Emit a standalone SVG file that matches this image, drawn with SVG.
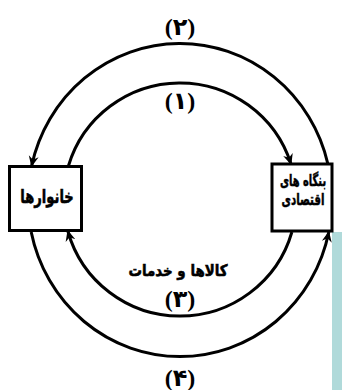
<svg xmlns="http://www.w3.org/2000/svg" width="342" height="390" viewBox="0 0 342 390">
<style>
.box{fill:#fff;stroke:#000;stroke-width:3}
.arc{fill:none;stroke:#000;stroke-width:3;marker-end:url(#ah)}
.lbl{font-family:"DejaVu Sans",sans-serif;font-weight:bold;font-size:19px;text-anchor:middle;fill:#000;stroke:#000;stroke-width:0.6}
.num{font-family:"Liberation Serif","DejaVu Sans",serif;font-weight:bold;font-size:24px;text-anchor:middle;fill:#000}
</style>
<defs>
<marker id="ah" markerUnits="userSpaceOnUse" viewBox="0 0 12 12" refX="10" refY="6" markerWidth="12" markerHeight="12" orient="auto">
<path d="M0,1 L11,6 L0,11 L3.5,6 z" fill="#000"/>
</marker>
</defs>
<rect x="332" y="232" width="10" height="158" fill="#b0dada"/>
<g id="connectors">
<path id="c2" class="arc" d="M327.9,164 A152,156.5 0 0 0 31.6,166"/>
<path id="c1" class="arc" d="M68.4,166 A116.5,116.5 0 0 1 291,164"/>
<path id="c3" class="arc" d="M291.9,232 A116.5,116.5 0 0 1 67.8,231"/>
<path id="c4" class="arc" d="M31.2,232 A152,156.5 0 0 0 328.8,232"/>
</g>
<g id="households">
<rect class="box" x="9.5" y="166.5" width="72" height="64"/>
<text class="lbl" transform="translate(47,203) scale(0.69,1)">خانوارها</text>
</g>
<g id="firms">
<rect class="box" x="272" y="164" width="60" height="67"/>
<text class="lbl" transform="translate(303,186) scale(0.62,1)" style="font-size:16px;stroke-width:0.5">بنگاه های</text>
<text class="lbl" transform="translate(303,205) scale(0.64,1)" style="font-size:16px;stroke-width:0.5">اقتصادی</text>
</g>
<g id="labels">
<text class="num" x="180" y="35">(۲)</text>
<text class="num" x="180" y="109">(۱)</text>
<text class="lbl" transform="translate(178,276) scale(0.84,1)" style="font-size:16px">کالاها و خدمات</text>
<text class="num" x="180" y="307">(۳)</text>
<text class="num" x="180" y="386">(۴)</text>
</g>
</svg>
